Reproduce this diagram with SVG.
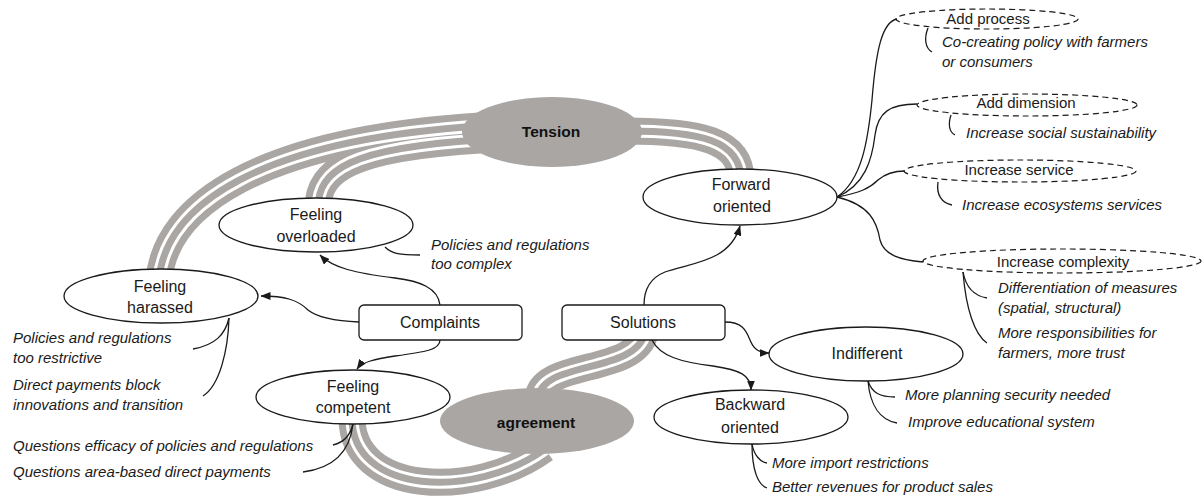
<svg xmlns="http://www.w3.org/2000/svg" width="1204" height="500" viewBox="0 0 1204 500">
  <style>
    .band-out { fill: none; stroke: #a9a6a4; stroke-width: 27; }
    .band-gap { fill: none; stroke: #ffffff; stroke-width: 13; }
    .band-mid { fill: none; stroke: #a9a6a4; stroke-width: 7; }
    .node { fill: #ffffff; stroke: #1a1a1a; stroke-width: 1.3; }
    .hub { fill: #a9a6a4; stroke: none; }
    .dash { fill: #ffffff; stroke: #1a1a1a; stroke-width: 1.2; stroke-dasharray: 6 4; }
    .lbl { font-family: "Liberation Sans", Arial, sans-serif; font-size: 16px; fill: #1a1a1a; text-anchor: middle; }
    .lbl-s { font-family: "Liberation Sans", Arial, sans-serif; font-size: 15px; fill: #1a1a1a; text-anchor: middle; }
    .hub-lbl { font-family: "Liberation Sans", Arial, sans-serif; font-size: 15.5px; font-weight: bold; fill: #111; text-anchor: middle; }
    .note { font-family: "Liberation Sans", Arial, sans-serif; font-size: 15px; font-style: italic; fill: #1a1a1a; }
    .link { fill: none; stroke: #1a1a1a; stroke-width: 1.3; }
    .arrow { fill: none; stroke: #1a1a1a; stroke-width: 1.3; marker-end: url(#tip); }
  </style>
  <defs>
    <marker id="tip" markerUnits="userSpaceOnUse" markerWidth="10" markerHeight="8" viewBox="0 0 10 8" refX="9.5" refY="4" orient="auto">
      <path d="M0,0 L10,4 L0,8 Z" fill="#1a1a1a"/>
    </marker>
    <!-- band centre lines, reused for each of the three stroke layers -->
    <path id="bandA" d="M159,280 C165,205 260,140 480,126"/>
    <path id="bandB" d="M318,208 C318,170 350,148 480,140"/>
    <path id="bandC" d="M625,131 C700,131 741,140 741,180"/>
    <path id="bandD" d="M538,400 C538,360 635,375 645,333"/>
    <path id="bandE" d="M352,416 C350,495 475,500 545,449"/>
  </defs>

  <!-- triple-line tension / agreement bands -->
  <g id="bands">
    <use href="#bandA" class="band-out"/>
    <use href="#bandB" class="band-out"/>
    <use href="#bandC" class="band-out"/>
    <use href="#bandD" class="band-out"/>
    <use href="#bandE" class="band-out"/>
    <use href="#bandA" class="band-gap"/>
    <use href="#bandB" class="band-gap"/>
    <use href="#bandC" class="band-gap"/>
    <use href="#bandD" class="band-gap"/>
    <use href="#bandE" class="band-gap"/>
    <use href="#bandA" class="band-mid"/>
    <use href="#bandB" class="band-mid"/>
    <use href="#bandC" class="band-mid"/>
    <use href="#bandD" class="band-mid"/>
    <use href="#bandE" class="band-mid"/>
  </g>

  <g id="tension">
    <ellipse class="hub" cx="552" cy="132" rx="90" ry="35"/>
    <text class="hub-lbl" x="551" y="137">Tension</text>
  </g>

  <g id="agreement">
    <ellipse class="hub" cx="537" cy="421" rx="97" ry="33"/>
    <text class="hub-lbl" x="536" y="428">agreement</text>
  </g>

  <g id="complaints">
    <rect class="node" x="359" y="305" width="163" height="35" rx="5"/>
    <text class="lbl" x="440" y="328">Complaints</text>
  </g>

  <g id="solutions">
    <rect class="node" x="562" y="305" width="163" height="35" rx="5"/>
    <text class="lbl" x="643" y="328">Solutions</text>
  </g>

  <g id="feeling-overloaded">
    <ellipse class="node" cx="316" cy="225" rx="97" ry="27"/>
    <text class="lbl" x="316" y="220">Feeling</text>
    <text class="lbl" x="316" y="242">overloaded</text>
    <text class="note" x="431" y="250">Policies and regulations</text>
    <text class="note" x="431" y="269">too complex</text>
  </g>

  <g id="feeling-harassed">
    <ellipse class="node" cx="161" cy="296" rx="97" ry="27"/>
    <text class="lbl" x="160" y="292">Feeling</text>
    <text class="lbl" x="160" y="313">harassed</text>
    <text class="note" x="13" y="343">Policies and regulations</text>
    <text class="note" x="13" y="363">too restrictive</text>
    <text class="note" x="13" y="390">Direct payments block</text>
    <text class="note" x="13" y="410">innovations and transition</text>
  </g>

  <g id="feeling-competent">
    <ellipse class="node" cx="353" cy="397" rx="97" ry="27"/>
    <text class="lbl" x="353" y="392">Feeling</text>
    <text class="lbl" x="353" y="413">competent</text>
    <text class="note" x="13" y="451">Questions efficacy of policies and regulations</text>
    <text class="note" x="13" y="477">Questions area-based direct payments</text>
  </g>

  <g id="forward-oriented">
    <ellipse class="node" cx="740" cy="197" rx="97" ry="28"/>
    <text class="lbl" x="741" y="190">Forward</text>
    <text class="lbl" x="742" y="212">oriented</text>
  </g>

  <g id="indifferent">
    <ellipse class="node" cx="866" cy="354" rx="97" ry="27"/>
    <text class="lbl" x="867" y="359">Indifferent</text>
    <text class="note" x="905" y="400">More planning security needed</text>
    <text class="note" x="908" y="427">Improve educational system</text>
  </g>

  <g id="backward-oriented">
    <ellipse class="node" cx="751" cy="417" rx="97" ry="27"/>
    <text class="lbl" x="750" y="410">Backward</text>
    <text class="lbl" x="750" y="433">oriented</text>
    <text class="note" x="772" y="468">More import restrictions</text>
    <text class="note" x="772" y="492">Better revenues for product sales</text>
  </g>

  <g id="add-process">
    <ellipse class="dash" cx="987" cy="19" rx="91" ry="10"/>
    <text class="lbl-s" x="988" y="24">Add process</text>
    <text class="note" x="942" y="47">Co-creating policy with farmers</text>
    <text class="note" x="942" y="67">or consumers</text>
  </g>

  <g id="add-dimension">
    <ellipse class="dash" cx="1027" cy="105" rx="110" ry="11"/>
    <text class="lbl-s" x="1026" y="108">Add dimension</text>
    <text class="note" x="966" y="138">Increase social sustainability</text>
  </g>

  <g id="increase-service">
    <ellipse class="dash" cx="1020" cy="171" rx="116" ry="11"/>
    <text class="lbl-s" x="1019" y="175">Increase service</text>
    <text class="note" x="962" y="210">Increase ecosystems services</text>
  </g>

  <g id="increase-complexity">
    <ellipse class="dash" cx="1062" cy="261" rx="139" ry="12"/>
    <text class="lbl-s" x="1063" y="267">Increase complexity</text>
    <text class="note" x="998" y="293">Differentiation of measures</text>
    <text class="note" x="998" y="313">(spatial, structural)</text>
    <text class="note" x="998" y="338">More responsibilities for</text>
    <text class="note" x="998" y="358">farmers, more trust</text>
  </g>

  <g id="connectors">
    <!-- arrows out of Complaints and Solutions -->
    <path class="arrow" d="M440,305 C438,288 420,281 395,278 C355,273 333,268 320,255"/>
    <path class="arrow" d="M359,322 C335,321 318,318 308,310 C298,300 285,296 261,296"/>
    <path class="arrow" d="M440,340 C440,350 425,352 395,356 C375,359 362,362 357,369"/>
    <path class="arrow" d="M644,305 C644,290 650,278 665,272 C690,263 730,262 740,226"/>
    <path class="arrow" d="M725,322 C742,322 746,330 750,340 C754,350 760,353 769,353"/>
    <path class="arrow" d="M652,340 C660,356 680,362 713,366 C740,370 751,375 751,390"/>

    <!-- fan from Forward oriented to the four extensions -->
    <path class="link" d="M837,197 C862,180 868,140 872,100 C876,50 882,22 897,19"/>
    <path class="link" d="M837,197 C865,185 872,160 875,135 C878,112 890,104 917,104"/>
    <path class="link" d="M837,197 C860,193 870,188 878,180 C885,174 893,171 905,171"/>
    <path class="link" d="M837,197 C870,205 877,222 880,240 C884,255 900,260 923,262"/>

    <!-- brackets tying notes to their nodes -->
    <path class="link" d="M385,247 C392,254 400,255 420,255"/>
    <path class="link" d="M229,318 C225,335 215,345 193,349"/>
    <path class="link" d="M229,318 C228,350 220,385 203,396"/>
    <path class="link" d="M353,424 C350,435 345,442 333,445"/>
    <path class="link" d="M353,424 C350,450 335,468 303,472"/>
    <path class="link" d="M928,28 C924,38 925,48 932,52"/>
    <path class="link" d="M951,115 C948,124 949,132 955,135"/>
    <path class="link" d="M938,182 C936,195 942,203 952,205"/>
    <path class="link" d="M963,272 C966,288 975,296 987,298"/>
    <path class="link" d="M963,272 C966,310 975,335 987,343"/>
    <path class="link" d="M868,381 C872,393 880,397 895,397"/>
    <path class="link" d="M868,381 C870,405 880,420 897,423"/>
    <path class="link" d="M752,444 C754,455 760,462 767,463"/>
    <path class="link" d="M752,444 C752,470 758,485 767,488"/>
  </g>
</svg>
